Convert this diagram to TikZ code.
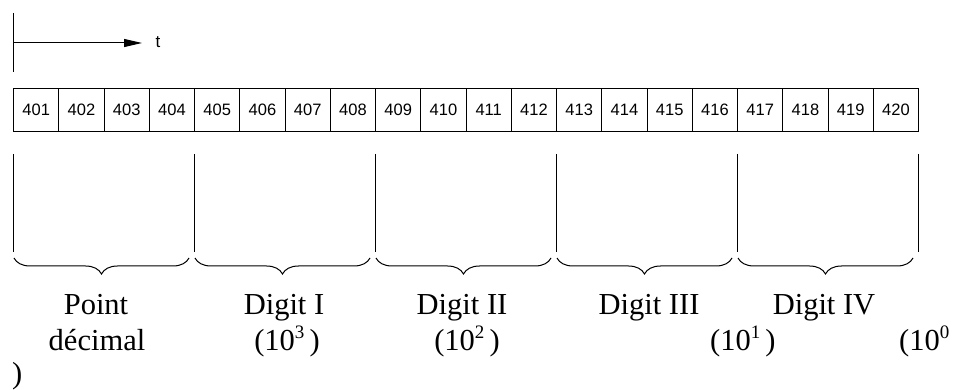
\documentclass[tikz,border=0pt]{standalone}
\usepackage{fontspec}
\setmainfont{Liberation Serif}
\newfontfamily\boxfont{Liberation Sans}
\usetikzlibrary{decorations.pathreplacing,arrows.meta}
\tikzset{
  cellbox/.style={draw, line width=1.1pt, minimum width=45.25pt, minimum height=43pt, inner sep=0pt, anchor=north west, font=\boxfont\fontsize{16.5}{19}\selectfont},
  lbl/.style={inner sep=0pt, font=\fontsize{30.5}{34}\selectfont},
  bar/.style={line width=1pt},
  brc/.style={line width=1pt, decorate, decoration={brace, mirror, amplitude=16pt}},
}
\newcommand{\sq}[1]{\raisebox{0.42em}{\fontsize{19}{20}\selectfont #1}}
\begin{document}
\begin{tikzpicture}[x=1pt,y=-1pt]
\useasboundingbox (0,0) rectangle (954,390);
% time axis
\coordinate (ttop) at (13,13);
\coordinate (tbot) at (13,72);
\coordinate (tstart) at (13,43);
\coordinate (tend) at (142,43);
\draw[line width=1pt] (ttop) -- (tbot);
\draw[line width=1pt, -{Triangle[length=18pt,width=8pt]}] (tstart) -- (tend);
\node[inner sep=0pt, anchor=base, font=\boxfont\fontsize{17}{20}\selectfont] (t) at (158,48) {t};
% cells
\foreach \k [evaluate=\k as \n using int(401+\k)] in {0,...,19} {
  \node[cellbox] (c\k) at ({13+45.25*\k},88) {\n};
}
% bars
\foreach \j in {0,...,5} {
  \coordinate (bt\j) at ({13+181*\j},154);
  \coordinate (bb\j) at ({13+181*\j},252);
  \draw[bar] (bt\j) -- (bb\j);
}
% braces
\foreach \j [evaluate=\j as \m using int(\j+1)] in {0,...,4} {
  \coordinate (bl\j) at ({13+181*\j+1},258);
  \coordinate (br\j) at ({13+181*\m-5},258);
  \draw[brc] (bl\j) -- (br\j);
}
% labels
\node[lbl, anchor=base] (l1a) at (96,315) {Point};
\node[lbl, anchor=base] (l1b) at (97,351) {décimal};
\node[lbl, anchor=base] (l2a) at (284,315) {Digit I};
\node[lbl, anchor=base] (l2b) at (287,351) {(10\sq{3}\,)};
\node[lbl, anchor=base] (l3a) at (462,315) {Digit II};
\node[lbl, anchor=base] (l3b) at (467,351) {(10\sq{2}\,)};
\node[lbl, anchor=base] (l4a) at (649,315) {Digit III};
\node[lbl, anchor=base west] (l4b) at (710,351) {(10\sq{1}\,)};
\node[lbl, anchor=base] (l5a) at (824,315) {Digit IV};
\node[lbl, anchor=base west] (l5b) at (899,351) {(10\sq{0}};
\node[lbl, anchor=base west] (l6) at (12,383) {)};
\end{tikzpicture}
\end{document}
